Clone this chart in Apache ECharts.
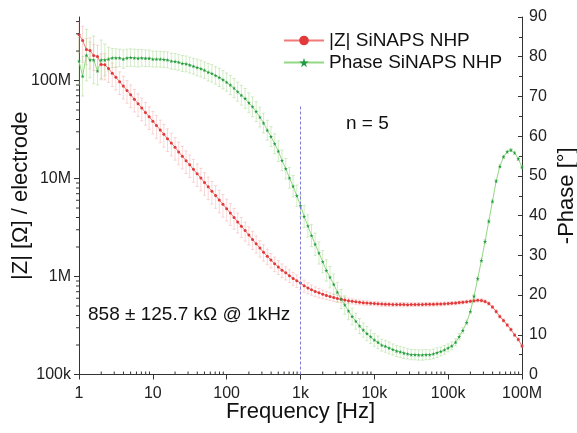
<!DOCTYPE html>
<html>
<head>
<meta charset="utf-8">
<script src="https://cdn.jsdelivr.net/npm/echarts@6/dist/echarts.min.js"></script>
<style>
    html, body { margin: 0; padding: 0; background: #fff; }
    #chart { width: 577px; height: 433px; }
</style>
</head>
<body>
<div id="chart"></div>
<script>
    // frequency sweep: 20 points per decade, 1 Hz .. 1 MHz
    var freqSteps = [1, 1.12, 1.26, 1.41, 1.58, 1.78, 2, 2.24, 2.51, 2.82, 3.16, 3.55, 3.98, 4.47, 5.01, 5.62, 6.31, 7.08, 7.94, 8.91];
    var freqDecades = [1, 10, 100, 1e3, 1e4, 1e5];
    var freqLast = 1e6;

    // |Z| mean in MOhm, one per frequency
    var zMag = [
        295, 256, 207, 202, 180, 176, 146, 145, 133, 119,
        108, 97.3, 87.7, 79.2, 71.4, 64.4, 58.1, 52.5, 47.3, 42.7,
        38.5, 34.8, 31.3, 28.3, 25.5, 23.0, 20.8, 18.7, 16.9, 15.2,
        13.8, 12.4, 11.2, 10.1, 9.12, 8.22, 7.41, 6.70, 6.04, 5.45,
        4.92, 4.44, 4.00, 3.61, 3.26, 2.94, 2.65, 2.39, 2.16, 1.95,
        1.77, 1.61, 1.47, 1.35, 1.25, 1.16, 1.09, 1.02, 0.957, 0.905,
        0.858, 0.805, 0.765, 0.732, 0.704, 0.681, 0.660, 0.641, 0.624, 0.609,
        0.597, 0.585, 0.575, 0.566, 0.558, 0.552, 0.545, 0.540, 0.537, 0.533,
        0.529, 0.526, 0.524, 0.522, 0.520, 0.519, 0.518, 0.517, 0.517, 0.516,
        0.517, 0.517, 0.518, 0.519, 0.520, 0.520, 0.521, 0.523, 0.525, 0.527,
        0.529, 0.533, 0.537, 0.542, 0.547, 0.552, 0.558, 0.566, 0.571, 0.569,
        0.556, 0.530, 0.488, 0.439, 0.391, 0.356, 0.320, 0.288, 0.253, 0.228,
        0.195
    ];
    // |Z| standard deviation in % of the mean
    var zStdPct = [
        35, 40, 30, 35, 30, 30, 28, 30, 28, 27,
        26, 26, 26, 26, 26, 26, 26, 26, 26, 26,
        26, 26, 26, 26, 26, 26, 26, 26, 26, 26,
        26, 26, 26, 26, 26, 26, 26, 26, 26, 26,
        25, 25, 24, 23, 23, 22, 21, 21, 20, 19,
        19, 18, 17, 17, 16, 16, 15.5, 15, 15, 14.7,
        14.7, 14, 13, 12, 11.5, 11, 10, 9.5, 9, 8.5,
        8, 7.5, 7, 6.5, 6, 5.8, 5.6, 5.4, 5.2, 5,
        5, 5, 5, 5, 5, 5, 5, 5, 5, 5,
        4.5, 4.5, 4.5, 4.5, 4.5, 4.5, 4.5, 4.5, 4.5, 4.5,
        4, 4, 4, 4, 4, 4, 4, 4, 4, 4,
        4, 4, 4, 4, 4, 4, 4, 4, 4, 4,
        4
    ];
    // -phase in degrees
    var phase = [
        78.9, 75.1, 80.4, 79.2, 79.2, 76.4, 79.2, 79.2, 79.4, 79.7,
        79.7, 79.7, 79.4, 79.7, 79.8, 79.7, 79.6, 79.7, 79.6, 79.6,
        79.4, 79.4, 79.4, 79.3, 79.2, 78.9, 78.8, 78.6, 78.3, 78.2,
        77.9, 77.6, 77.3, 77.0, 76.6, 76.1, 75.8, 75.3, 74.8, 74.2,
        73.6, 72.9, 72.1, 71.2, 70.3, 69.5, 68.4, 67.4, 66.2, 64.8,
        63.3, 61.5, 59.9, 58.1, 56.2, 53.9, 51.8, 49.5, 47.4, 45.0,
        42.5, 39.8, 37.4, 35.0, 32.8, 30.6, 28.4, 26.2, 24.5, 22.7,
        20.7, 19.0, 17.5, 16.0, 14.6, 13.4, 12.2, 11.2, 10.3, 9.5,
        8.7, 8.1, 7.4, 7.1, 6.7, 6.3, 5.9, 5.7, 5.4, 5.2,
        5.0, 5.0, 4.9, 4.9, 5.0, 5.0, 5.2, 5.5, 5.8, 6.2,
        6.7, 7.2, 8.1, 9.5, 11.1, 13.1, 15.9, 19.7, 24.1, 28.7,
        33.5, 38.6, 43.6, 48.7, 52.4, 54.8, 56.1, 56.5, 55.8, 54.3,
        52.2
    ];
    // -phase standard deviation in degrees
    var phaseStd = [
        6, 5, 6.5, 4.5, 6, 3.5, 5, 4, 3, 2.4,
        2.3, 2.2, 2.3, 2.2, 2.2, 2.2, 2.2, 2.1, 2.1, 2.1,
        2.0, 2.0, 2.0, 2.0, 2.0, 2.0, 2.0, 2.0, 2.0, 2.0,
        2.0, 2.0, 2.1, 2.1, 2.1, 2.2, 2.2, 2.2, 2.3, 2.3,
        2.3, 2.4, 2.4, 2.4, 2.5, 2.5, 2.5, 2.5, 2.5, 2.5,
        2.5, 2.5, 2.5, 2.5, 2.6, 2.6, 2.6, 2.6, 2.7, 2.7,
        2.7, 2.8, 2.8, 2.8, 2.8, 2.8, 2.8, 2.7, 2.7, 2.6,
        2.5, 2.4, 2.3, 2.2, 2.1, 2.0, 1.9, 1.8, 1.8, 1.7,
        1.6, 1.6, 1.5, 1.5, 1.5, 1.4, 1.4, 1.4, 1.4, 1.3,
        1.3, 1.3, 1.3, 1.3, 1.3, 1.2, 1.2, 1.2, 1.1, 1.1,
        1.0, 1.0, 0.9, 0.8, 0.7, 0.6, 0.6, 0.5, 0.5, 0.5,
        0.5, 0.5, 0.5, 0.4, 0.4, 0.4, 0.4, 0.4, 0.4, 0.4,
        0.4
    ];

    // axes
    var xMin = 1, xMax = 1e6;
    var zMin = 1e5, zMax = 4.45e8;
    var xTickLabels = {1: '1', 10: '10', 100: '100', 1000: '1k', 10000: '10k', 100000: '100k', 1000000: '100M'};
    var zTickLabels = {100000: '100k', 1000000: '1M', 10000000: '10M', 100000000: '100M'};
    var zMajorTicks = [1e5, 1e6, 1e7, 1e8];
    var minorSteps = [2, 3, 4, 5, 6, 7, 8, 9];
    var markerFreq = 1000;          // dashed line at 1 kHz
    var markerTop = 5.6e7;

    var FONT = '"Liberation Sans", Arial, sans-serif';
    var AXIS_COLOR = '#333';

    // build the table the library needs
    var freq = [];
    freqDecades.forEach(function (d) {
        freqSteps.forEach(function (m) { freq.push(+(m * d).toPrecision(3)); });
    });
    freq.push(freqLast);

    var zData = [], zErr = [], phData = [], phErr = [];
    for (var i = 0; i < freq.length; i++) {
        var z = zMag[i] * 1e6, sd = z * zStdPct[i] / 100;
        zData.push([freq[i], z]);
        zErr.push([freq[i], z - sd, z + sd]);
        phData.push([freq[i], phase[i]]);
        phErr.push([freq[i], phase[i] - phaseStd[i], phase[i] + phaseStd[i]]);
    }

    var xMinor = [], zMinor = [];
    freqDecades.forEach(function (d) {
        minorSteps.forEach(function (m) { xMinor.push([m * d, zMin]); });
    });
    zMajorTicks.forEach(function (d) {
        minorSteps.forEach(function (m) { if (m * d <= zMax) zMinor.push([xMin, m * d]); });
    });

    function errBars(color) {
        return function (params, api) {
            var f = api.value(0);
            var p1 = api.coord([f, api.value(1)]);
            var p2 = api.coord([f, api.value(2)]);
            var w = 1.6;
            var st = {stroke: color, lineWidth: 1};
            return {
                type: 'group',
                children: [
                    {type: 'line', shape: {x1: p1[0], y1: p1[1], x2: p2[0], y2: p2[1]}, style: st},
                    {type: 'line', shape: {x1: p1[0] - w, y1: p1[1], x2: p1[0] + w, y2: p1[1]}, style: st},
                    {type: 'line', shape: {x1: p2[0] - w, y1: p2[1], x2: p2[0] + w, y2: p2[1]}, style: st}
                ]
            };
        };
    }

    // tick marks drawn through the axis scales
    function tickMark(dx, dy) {
        return function (params, api) {
            var p = api.coord([api.value(0), api.value(1)]);
            return {
                type: 'line',
                shape: {x1: p[0], y1: p[1], x2: p[0] + dx, y2: p[1] + dy},
                style: {stroke: AXIS_COLOR, lineWidth: 1}
            };
        };
    }

    var starPath = 'path://M50,0 L61,35 L98,35 L68,57 L79,91 L50,70 L21,91 L32,57 L2,35 L39,35 Z';

    var myChart = echarts.init(document.getElementById('chart'));
    var option = {
        animation: false,
        backgroundColor: '#fff',
        textStyle: {fontFamily: FONT},
        grid: {left: 79, right: 55, top: 17, bottom: 58.5, containLabel: false, outerBoundsMode: 'none'},
        legend: {
            data: ['|Z| SiNAPS NHP', 'Phase SiNAPS NHP'],
            orient: 'vertical',
            left: 278,
            top: 26,
            itemWidth: 40,
            itemHeight: 12,
            itemGap: 3,
            lineStyle: {width: 2},
            textStyle: {fontSize: 19, color: '#111', fontFamily: FONT}
        },
        xAxis: {
            type: 'log',
            logBase: 10,
            min: xMin,
            max: xMax,
            name: 'Frequency [Hz]',
            nameLocation: 'middle',
            nameGap: 26,
            nameMoveOverlap: false,
            nameTextStyle: {fontSize: 22, color: '#111', fontFamily: FONT},
            axisLine: {show: true, lineStyle: {color: AXIS_COLOR, width: 1}},
            axisTick: {show: true, inside: false, length: 5, lineStyle: {color: AXIS_COLOR}},
            minorTick: {show: false},
            splitLine: {show: false},
            axisLabel: {
                fontSize: 16, color: '#222', margin: 11, fontFamily: FONT,
                formatter: function (v) { return xTickLabels[Math.round(v)] || ''; }
            }
        },
        yAxis: [
            {
                type: 'log',
                logBase: 10,
                min: zMin,
                max: zMax,
                position: 'left',
                name: '|Z| [Ω] / electrode',
                nameLocation: 'middle',
                nameRotate: 90,
                nameGap: 47,
                nameMoveOverlap: false,
                nameTextStyle: {fontSize: 22, color: '#111', fontFamily: FONT},
                axisLine: {show: true, lineStyle: {color: AXIS_COLOR, width: 1}},
                axisTick: {show: false},
                minorTick: {show: false},
                splitLine: {show: false},
                axisLabel: {
                    fontSize: 16, color: '#222', margin: 8, fontFamily: FONT,
                    formatter: function (v) { return zTickLabels[Math.round(v)] || ''; }
                }
            },
            {
                type: 'value',
                min: 0,
                max: 90,
                interval: 10,
                position: 'right',
                name: '-Phase [°]',
                nameLocation: 'middle',
                nameRotate: 90,
                nameGap: 34,
                nameMoveOverlap: false,
                nameTextStyle: {fontSize: 22, color: '#111', fontFamily: FONT},
                axisLine: {show: true, lineStyle: {color: AXIS_COLOR, width: 1}},
                axisTick: {show: true, inside: true, length: 4, lineStyle: {color: AXIS_COLOR}},
                minorTick: {show: true, splitNumber: 2, length: 3, lineStyle: {color: AXIS_COLOR}},
                splitLine: {show: false},
                axisLabel: {fontSize: 16, color: '#222', margin: 7, fontFamily: FONT}
            }
        ],
        series: [
            {
                name: 'zErr', type: 'custom', yAxisIndex: 0, silent: true, z: 1,
                encode: {x: 0, y: [1, 2]},
                renderItem: errBars('rgba(243,150,150,0.38)'),
                data: zErr
            },
            {
                name: 'phErr', type: 'custom', yAxisIndex: 1, silent: true, z: 1,
                encode: {x: 0, y: [1, 2]},
                renderItem: errBars('rgba(160,215,130,0.45)'),
                data: phErr
            },
            {
                name: '|Z| SiNAPS NHP',
                type: 'line',
                yAxisIndex: 0,
                z: 3,
                data: zData,
                symbol: 'circle',
                symbolSize: 3,
                showAllSymbol: true,
                itemStyle: {color: '#e23a3a'},
                lineStyle: {color: '#f07a7a', width: 1},
                markLine: {
                    silent: true,
                    symbol: ['none', 'none'],
                    label: {show: false},
                    lineStyle: {color: '#7c7cd8', type: [3, 2], width: 1},
                    data: [[{coord: [markerFreq, zMin]}, {coord: [markerFreq, markerTop]}]]
                }
            },
            {
                name: 'Phase SiNAPS NHP',
                type: 'line',
                yAxisIndex: 1,
                z: 3,
                data: phData,
                symbol: starPath,
                symbolSize: 4,
                showAllSymbol: true,
                itemStyle: {color: '#1f9a40'},
                lineStyle: {color: '#94d884', width: 1}
            },
            {
                name: 'xMinor', type: 'custom', yAxisIndex: 0, silent: true, clip: false, z: 4,
                renderItem: tickMark(0, -3),
                data: xMinor
            },
            {
                name: 'zMinor', type: 'custom', yAxisIndex: 0, silent: true, clip: false, z: 4,
                renderItem: tickMark(-3, 0),
                data: zMinor
            },
            {
                name: 'zMajor', type: 'custom', yAxisIndex: 0, silent: true, clip: false, z: 4,
                renderItem: tickMark(-5, 0),
                data: zMajorTicks.map(function (v) { return [xMin, v]; })
            }
        ],
        graphic: [
            {
                type: 'text', x: 346, y: 124,
                style: {text: 'n = 5', font: '19px ' + FONT, fill: '#111', verticalAlign: 'middle'}
            },
            {
                type: 'text', x: 88, y: 315,
                style: {text: '858 ± 125.7 kΩ @ 1kHz', font: '19px ' + FONT, fill: '#111', verticalAlign: 'middle'}
            }
        ]
    };
    myChart.setOption(option);
</script>
</body>
</html>
